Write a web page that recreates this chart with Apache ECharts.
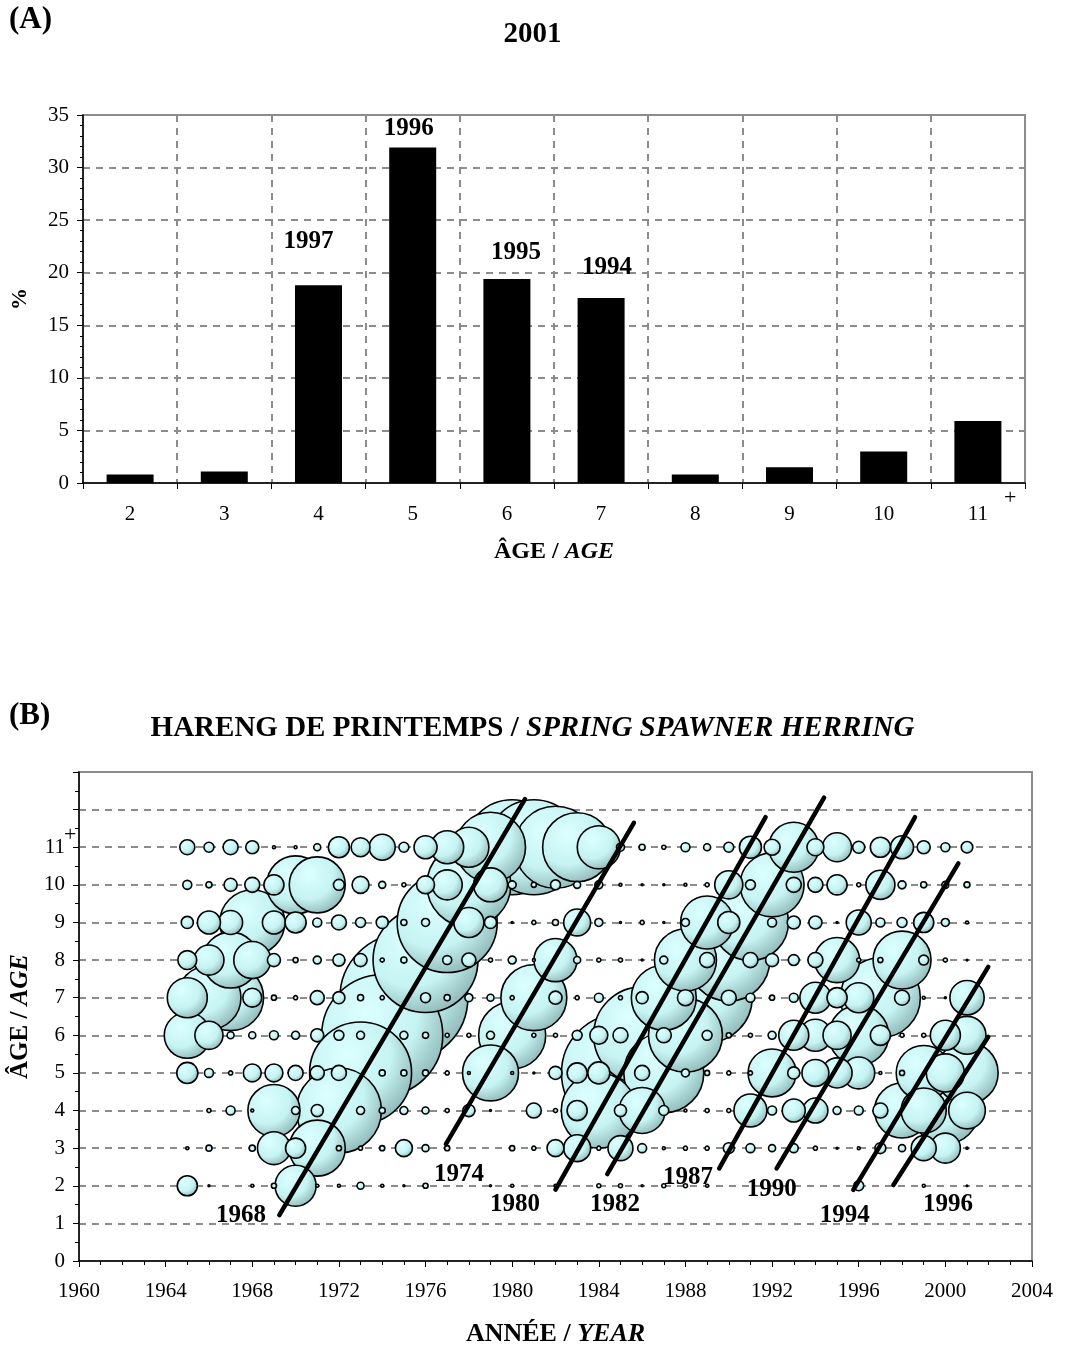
<!DOCTYPE html>
<html><head><meta charset="utf-8">
<script src="https://cdn.jsdelivr.net/npm/echarts@6/dist/echarts.min.js"></script>
<style>html,body{margin:0;padding:0;background:#fff}#c{width:1065px;height:1349px}</style>
</head><body><div id="c"></div>
<script>
// ---------- (A) 2001 age composition ----------
const ageCategories = ['2','3','4','5','6','7','8','9','10','11'];
const pct2001 = [0.8, 1.1, 18.8, 31.9, 19.4, 17.6, 0.8, 1.5, 3.0, 5.9];
const yearClassLabels = ['', '', '1997', '1996', '1995', '1994', '', '', '', ''];

// ---------- (B) catch at age (%) by year, 1965-2001 ----------
const years = [1965,1966,1967,1968,1969,1970,1971,1972,1973,1974,1975,1976,1977,1978,1979,1980,1981,1982,1983,1984,1985,1986,1987,1988,1989,1990,1991,1992,1993,1994,1995,1996,1997,1998,1999,2000,2001];
const ages = [2,3,4,5,6,7,8,9,10,11];
const pctAge2  = [10.3,1.0,0,1.5,2.6, 21.0,1.5,1.5,3.6,1.5, 1.0,2.6,0,0,1.0, 1.5,0,1.5,0,2.1, 2.1,1.0,2.1,2.1,1.5, 0,0,0,0,0, 0,5.1,0,0,1.5, 0,0.8];
const pctAge3  = [1.5,3.1,0,3.1,16.9, 10.3,28.7,2.6,2.1,2.6, 8.7,3.6,2.6,0,0, 2.6,2.1,8.7,13.8,2.1, 12.8,4.6,1.5,2.1,2.1, 5.6,4.6,3.6,4.6,2.1, 1.0,1.5,5.6,3.6,12.8, 15.4,1.1];
const pctAge4  = [0,2.1,4.6,1.5,26.7, 4.1,6.2,43.6,4.1,3.1, 4.1,3.6,2.1,6.2,1.0, 0,7.7,2.1,10.3,38.5, 6.2,23.6,5.1,1.5,2.1, 2.1,16.9,4.6,11.8,12.8, 4.1,4.6,7.7,28.2,23.1, 34.4,18.8];
const pctAge5  = [10.8,4.6,2.1,9.2,9.2, 7.7,7.2,7.7,52.3,3.1, 3.1,3.1,2.1,1.5,28.7, 1.5,1.0,6.7,10.3,11.3, 60.5,7.7,41.0,4.1,2.6, 2.1,2.1,24.6,6.2,13.8, 15.4,16.4,1.5,2.6,28.2, 19.5,31.9];
const pctAge6  = [23.6,14.4,3.6,3.6,4.6, 4.1,6.7,5.1,4.1,62.1, 4.1,3.1,2.1,2.1,4.1, 34.4,2.1,2.1,5.1,9.2, 7.7,49.7,7.7,37.9,5.1, 2.6,2.1,4.1,15.4,16.4, 14.4,30.8,10.3,2.1,2.1, 15.4,19.4];
const pctAge7  = [20.5,32.8,33.8,9.7,2.6, 2.1,7.2,6.2,3.1,2.1, 65.6,5.1,3.1,4.1,3.6, 2.1,33.8,6.7,2.1,4.6, 2.1,6.2,33.3,8.2,46.2, 7.7,4.6,2.6,4.6,15.9, 10.3,15.4,41.0,7.7,1.5, 1.0,17.6];
const pctAge8  = [9.7,15.4,28.7,19.0,6.7, 2.6,4.1,6.2,6.7,2.1, 3.1,53.8,4.6,7.2,2.1, 4.1,1.5,22.1,3.6,2.1, 2.1,1.0,4.1,31.8,7.7, 42.1,7.7,6.7,5.6,7.7, 23.1,2.1,2.6,29.7,5.1, 2.1,0.8];
const pctAge9  = [6.2,11.8,12.3,33.3,11.8, 10.8,4.6,7.7,5.1,6.2, 3.1,4.1,51.3,15.4,6.2, 1.0,2.1,3.1,13.8,4.1, 1.0,2.1,1.0,4.1,27.2, 11.3,39.0,4.6,6.7,6.7, 1.0,12.8,4.6,5.1,10.3, 4.1,1.5];
const pctAge10 = [4.6,3.1,6.7,7.7,10.3, 29.7,28.7,5.6,8.7,3.6, 2.1,9.2,15.4,43.1,17.4, 4.1,2.6,5.1,3.6,4.1, 1.5,1.0,1.0,1.5,2.1, 14.4,5.1,32.8,7.7,7.7, 10.3,2.1,14.9,4.1,3.1, 3.6,3.0];
const pctAge11 = [7.7,5.1,7.7,6.7,1.5, 1.5,3.6,10.8,9.7,13.3, 5.1,11.8,16.9,20.5,35.9, 48.7,48.7,42.1,35.4,22.1, 4.1,3.1,2.1,4.6,3.6, 5.1,11.3,8.2,25.6,8.7, 14.9,6.2,10.3,11.8,6.7, 4.6,5.9];

// cohort (year-class) tracking lines: [year, age] at both ends
const cohortNames = ['1968','1974','1980','1982','1987','1990','1994','1996'];
const cohortStart = [[1969.25,1.22],[1976.94,3.11],[1982.0,1.90],[1984.39,2.31],[1989.56,2.46],[1992.21,2.46],[1995.75,1.89],[1997.60,2.02]];
const cohortEnd   = [[1980.59,12.28],[1985.62,11.65],[1991.70,11.80],[1994.40,12.32],[1998.60,11.80],[2000.60,10.57],[2001.98,7.82],[2001.98,5.96]];
const cohortLabelAt = [[1967.48,1.20],[1977.54,2.31],[1980.13,1.51],[1984.75,1.51],[1988.12,2.23],[1991.99,1.89],[1995.36,1.20],[2000.12,1.49]];

// ---------- build ----------
const FONT = '"Liberation Serif","Times New Roman",serif';
const GRID_GRAY = '#8c8c8c';
const SIZE_PER_PCT = 1.95;

const catchByAge = [pctAge2,pctAge3,pctAge4,pctAge5,pctAge6,pctAge7,pctAge8,pctAge9,pctAge10,pctAge11];
const bubbleData = [];
ages.forEach((a, i) => years.forEach((y, j) => {
  const v = catchByAge[i][j];
  if (v > 0) bubbleData.push([y, a, v]);
}));
bubbleData.sort((p, q) => q[2] - p[2]);   // big first, small drawn on top

const labelOffsets = [null,null,[-10,-26],[-4,-2],[9,-9],[6,-13],null,null,null,null];
const barData = pct2001.map((v, i) => {
  const item = { value: v };
  if (yearClassLabels[i]) {
    item.label = { show: true, position: 'top', distance: 5, formatter: yearClassLabels[i],
      offset: labelOffsets[i], fontFamily: FONT, fontWeight: 'bold', fontSize: 25, color: '#000' };
  }
  return item;
});

const bubbleFill = new echarts.graphic.RadialGradient(0.36, 0.32, 0.78, [
  { offset: 0, color: '#dcffff' },
  { offset: 0.55, color: '#c6f3f3' },
  { offset: 1, color: '#86adad' }
]);

const dashed = { show: true, lineStyle: { color: GRID_GRAY, width: 2, type: [7, 6] } };
function richName(size) {
  return {
    a: { fontFamily: FONT, fontWeight: 'bold', fontSize: size, color: '#000' },
    b: { fontFamily: FONT, fontWeight: 'bold', fontStyle: 'italic', fontSize: size, color: '#000' }
  };
}

const series = [
  { type: 'bar', xAxisIndex: 0, yAxisIndex: 0, data: barData, barWidth: 47,
    itemStyle: { color: '#000' }, z: 3 },
  { type: 'scatter', xAxisIndex: 1, yAxisIndex: 1, data: bubbleData, clip: false,
    symbolSize: (val) => val[2] * SIZE_PER_PCT,
    itemStyle: { color: bubbleFill, borderColor: '#000', borderWidth: 1.6, opacity: 1 }, z: 3 }
];
cohortNames.forEach((n, i) => {
  series.push({ type: 'line', xAxisIndex: 1, yAxisIndex: 1, data: [cohortStart[i], cohortEnd[i]],
    symbol: 'none', lineStyle: { color: '#000', width: 4.5, cap: 'round' }, z: 5, silent: true });
});
series.push({ type: 'scatter', xAxisIndex: 1, yAxisIndex: 1, symbolSize: 1, z: 6,
  itemStyle: { color: 'rgba(0,0,0,0)', opacity: 1 },
  data: cohortNames.map((n, i) => ({ name: n, value: cohortLabelAt[i] })),
  label: { show: true, position: 'inside', formatter: '{b}', fontFamily: FONT, fontWeight: 'bold',
    fontSize: 25, color: '#000', opacity: 1, textBorderWidth: 0 } });

const option = {
  animation: false,
  backgroundColor: '#fff',
  textStyle: { fontFamily: FONT, color: '#000' },
  title: [
    { text: '2001', left: 'center', top: 15, textStyle: { fontFamily: FONT, fontWeight: 'bold', fontSize: 29, color: '#000' } },
    { text: '{a|HARENG DE PRINTEMPS / }{b|SPRING SPAWNER HERRING}', left: 'center', top: 709,
      textStyle: { rich: richName(29) } }
  ],
  graphic: [
    { type: 'text', left: 9, top: 4, style: { text: '(A)', font: 'bold 31px ' + FONT, fill: '#000' } },
    { type: 'text', left: 9, top: 700, style: { text: '(B)', font: 'bold 31px ' + FONT, fill: '#000' } },
    { type: 'text', left: 1004, top: 487, style: { text: '+', font: '22px ' + FONT, fill: '#000' } },
    { type: 'text', left: 64, top: 824, style: { text: '+', font: '22px ' + FONT, fill: '#000' } }
  ],
  grid: [
    { left: 83, top: 115, width: 942, height: 368, show: true, borderColor: GRID_GRAY, borderWidth: 2 },
    { left: 79, top: 772, width: 953, height: 489, show: true, borderColor: GRID_GRAY, borderWidth: 2 }
  ],
  xAxis: [
    { type: 'category', gridIndex: 0, data: ageCategories,
      axisLine: { lineStyle: { color: '#000', width: 1.5 } },
      axisTick: { show: true, interval: 0, length: 6, lineStyle: { color: '#000' } },
      axisLabel: { fontFamily: FONT, fontSize: 21, color: '#000', margin: 21 },
      splitLine: Object.assign({ interval: 0 }, dashed),
      name: '{a|ÂGE / }{b|AGE}', nameLocation: 'middle', nameGap: 57, nameTextStyle: { rich: richName(24) } },
    { type: 'value', gridIndex: 1, min: 1960, max: 2004, interval: 4,
      axisLine: { onZero: false, lineStyle: { color: '#000', width: 1.5 } },
      axisTick: { show: true, length: 6, lineStyle: { color: '#000' } },
      minorTick: { show: true, splitNumber: 4, length: 4, lineStyle: { color: '#000' } },
      axisLabel: { fontFamily: FONT, fontSize: 21, color: '#000', margin: 20, formatter: (v) => String(v) },
      splitLine: { show: false },
      name: '{a|ANNÉE / }{b|YEAR}', nameLocation: 'middle', nameGap: 60, nameTextStyle: { rich: richName(26) } }
  ],
  yAxis: [
    { type: 'value', gridIndex: 0, min: 0, max: 35, interval: 5,
      axisLine: { show: true, lineStyle: { color: '#000', width: 1.5 } },
      axisTick: { show: true, length: 6, lineStyle: { color: '#000' } },
      minorTick: { show: true, splitNumber: 5, length: 3, lineStyle: { color: '#000' } },
      axisLabel: { fontFamily: FONT, fontSize: 21, color: '#000', margin: 14 },
      splitLine: dashed,
      name: '%', nameLocation: 'middle', nameGap: 52, nameRotate: 90,
      nameTextStyle: { fontFamily: FONT, fontWeight: 'bold', fontSize: 22, color: '#000' } },
    { type: 'value', gridIndex: 1, min: 0, max: 13, interval: 1,
      axisLine: { show: true, onZero: false, lineStyle: { color: '#000', width: 1.5 } },
      axisTick: { show: true, length: 6, lineStyle: { color: '#000' } },
      minorTick: { show: true, splitNumber: 2, length: 4, lineStyle: { color: '#000' } },
      axisLabel: { fontFamily: FONT, fontSize: 21, color: '#000', margin: 14,
        formatter: (v) => (v <= 11 ? String(v) : '') },
      splitLine: dashed,
      name: '{a|ÂGE / }{b|AGE}', nameLocation: 'middle', nameGap: 44, nameRotate: 90,
      nameTextStyle: { rich: richName(25) } }
  ],
  series: series
};

const chart = echarts.init(document.getElementById('c'), null, { renderer: 'canvas' });
chart.setOption(option);
</script>
</body></html>
